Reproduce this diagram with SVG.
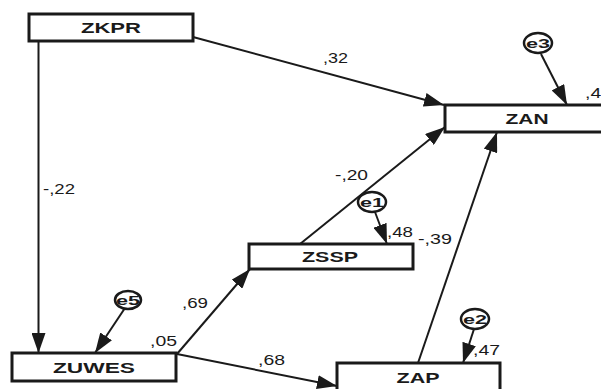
<svg xmlns="http://www.w3.org/2000/svg" width="601" height="389" viewBox="0 0 601 389">
<style>
.box{fill:#fff;stroke:#1a1a1a;stroke-width:3}
.nt{font-family:"Liberation Sans",Arial,sans-serif;font-weight:bold;font-size:14px;fill:#1a1a1a;text-anchor:middle}
.lb{font-family:"Liberation Sans",Arial,sans-serif;font-size:14px;fill:#1a1a1a}
.err{fill:#fff;stroke:#1a1a1a;stroke-width:2.5}
.et{font-family:"Liberation Sans",Arial,sans-serif;font-weight:bold;font-size:13px;fill:#1a1a1a;text-anchor:middle}
.cn{stroke:#1a1a1a;stroke-width:2;fill:none;marker-end:url(#ah)}
</style>
<defs>
<marker id="ah" viewBox="0 0 20 14" refX="20" refY="7" markerWidth="20" markerHeight="14" markerUnits="userSpaceOnUse" orient="auto">
<path d="M0,0 L20,7 L0,14 z" fill="#1a1a1a"/>
</marker>
</defs>
<rect width="601" height="389" fill="#fff"/>
<g id="connectors">
<line class="cn" x1="38.5" y1="41" x2="38.5" y2="353"/>
<line class="cn" x1="193" y1="37" x2="444" y2="105"/>
<line class="cn" x1="300" y1="244" x2="445" y2="127"/>
<line class="cn" x1="418" y1="363" x2="497" y2="132"/>
<line class="cn" x1="177" y1="354" x2="250" y2="269"/>
<line class="cn" x1="177" y1="354" x2="337" y2="386"/>
<line class="cn" x1="541" y1="54" x2="567" y2="105"/>
<line class="cn" x1="375" y1="212" x2="387" y2="244"/>
<line class="cn" x1="474" y1="329" x2="463" y2="363"/>
<line class="cn" x1="125" y1="308" x2="95" y2="353"/>
</g>
<g id="ZKPR"><rect class="box" x="29" y="14" width="164" height="27"/><text class="nt" x="111" y="33" textLength="60" lengthAdjust="spacingAndGlyphs">ZKPR</text></g>
<g id="ZAN"><rect class="box" x="445" y="105" width="164" height="27"/><text class="nt" x="527" y="124" textLength="43" lengthAdjust="spacingAndGlyphs">ZAN</text></g>
<g id="ZSSP"><rect class="box" x="249" y="244" width="164" height="25"/><text class="nt" x="330" y="262" textLength="56" lengthAdjust="spacingAndGlyphs">ZSSP</text></g>
<g id="ZUWES"><rect class="box" x="12" y="353" width="164" height="28"/><text class="nt" x="94" y="373" textLength="82" lengthAdjust="spacingAndGlyphs">ZUWES</text></g>
<g id="ZAP"><rect class="box" x="337" y="363" width="163" height="32"/><text class="nt" x="418" y="383" textLength="43" lengthAdjust="spacingAndGlyphs">ZAP</text></g>
<g id="e3"><ellipse class="err" cx="538" cy="43" rx="14" ry="10"/><text class="et" x="538" y="48" textLength="24" lengthAdjust="spacingAndGlyphs">e3</text></g>
<g id="e1"><ellipse class="err" cx="372" cy="202" rx="14" ry="10"/><text class="et" x="372" y="207" textLength="24" lengthAdjust="spacingAndGlyphs">e1</text></g>
<g id="e2"><ellipse class="err" cx="475" cy="319" rx="14" ry="10"/><text class="et" x="475" y="324" textLength="24" lengthAdjust="spacingAndGlyphs">e2</text></g>
<g id="e5"><ellipse class="err" cx="128" cy="300" rx="13" ry="9"/><text class="et" x="128" y="305" textLength="24" lengthAdjust="spacingAndGlyphs">e5</text></g>
<g id="labels">
<text class="lb" x="323" y="63" textLength="25" lengthAdjust="spacingAndGlyphs">,32</text>
<text class="lb" x="43" y="194" textLength="32" lengthAdjust="spacingAndGlyphs">-,22</text>
<text class="lb" x="585" y="98" textLength="27" lengthAdjust="spacingAndGlyphs">,43</text>
<text class="lb" x="335" y="180" textLength="33" lengthAdjust="spacingAndGlyphs">-,20</text>
<text class="lb" x="387" y="237" textLength="26" lengthAdjust="spacingAndGlyphs">,48</text>
<text class="lb" x="418" y="244" textLength="34" lengthAdjust="spacingAndGlyphs">-,39</text>
<text class="lb" x="182" y="308" textLength="26" lengthAdjust="spacingAndGlyphs">,69</text>
<text class="lb" x="150" y="346" textLength="27" lengthAdjust="spacingAndGlyphs">,05</text>
<text class="lb" x="258" y="365" textLength="27" lengthAdjust="spacingAndGlyphs">,68</text>
<text class="lb" x="473" y="355" textLength="27" lengthAdjust="spacingAndGlyphs">,47</text>
</g>
</svg>
